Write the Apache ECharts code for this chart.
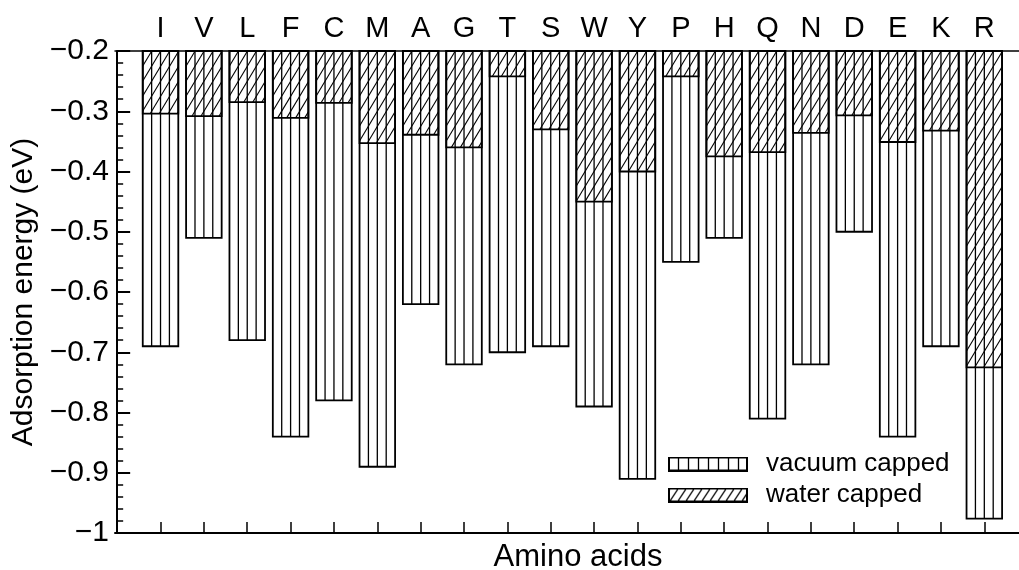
<!DOCTYPE html>
<html><head><meta charset="utf-8">
<script src="https://cdn.jsdelivr.net/npm/echarts@6/dist/echarts.min.js"></script>
<style>html,body{margin:0;padding:0;background:#fff}#c{width:1019px;height:570px}</style>
</head><body><div id="c"></div>
<script>
const categories = ['I','V','L','F','C','M','A','G','T','S','W','Y','P','H','Q','N','D','E','K','R'];
const vacuumCapped = [-0.69,-0.51,-0.68,-0.84,-0.78,-0.89,-0.62,-0.72,-0.70,-0.69,-0.79,-0.91,-0.55,-0.51,-0.81,-0.72,-0.50,-0.84,-0.69,-0.976];
const waterCapped = [-0.304,-0.308,-0.285,-0.311,-0.286,-0.353,-0.339,-0.36,-0.242,-0.33,-0.45,-0.40,-0.242,-0.375,-0.368,-0.336,-0.307,-0.351,-0.332,-0.725];
const seriesNames = ['vacuum capped','water capped'];
const yName = 'Adsorption energy (eV)';
const xName = 'Amino acids';
const yMin = -1, yMax = -0.2, yStep = 0.1;
const xPositions = categories.map((c,i)=>i+1);

const FONT = '"Liberation Sans", Arial, Helvetica, sans-serif';
const BASE = yMax;

function makeIcon(kind) {
  const c = document.createElement('canvas'); c.width = 80; c.height = 15;
  const g = c.getContext('2d');
  g.fillStyle = '#fff'; g.fillRect(0,0,80,15);
  g.strokeStyle = '#000'; g.lineWidth = 1.3;
  g.beginPath();
  if (kind === 'v') {
    for (let x = 10; x < 80; x += 10) { g.moveTo(x+0.5,0); g.lineTo(x+0.5,15); }
  } else {
    for (let x = -15; x < 95; x += 8) { g.moveTo(x,15); g.lineTo(x+10,0); }
  }
  g.stroke();
  g.lineWidth = 2; g.strokeRect(1,1,78,13);
  return 'image://' + c.toDataURL();
}

function barGeom(api) {
  const x = api.value(0), v = api.value(1);
  const top = api.coord([x, BASE]);
  const bot = api.coord([x, v]);
  const w = api.size([0.82, 0])[0];
  return {x0: top[0]-w/2, x1: top[0]+w/2, yT: top[1], yB: bot[1], w: w};
}

function renderVacuum(params, api) {
  const b = barGeom(api);
  const children = [{type:'rect', shape:{x:b.x0, y:b.yT, width:b.w, height:b.yB-b.yT},
    style:{fill:'#fff', stroke:'#000', lineWidth:1.8}}];
  for (let k = 1; k < 4; k++) {
    const xx = b.x0 + b.w*k/4;
    children.push({type:'line', shape:{x1:xx, y1:b.yT, x2:xx, y2:b.yB}, style:{stroke:'#000', lineWidth:1.3}});
  }
  return {type:'group', children};
}

function renderWater(params, api) {
  const b = barGeom(api);
  const H = b.yB - b.yT;
  const slope = 0.6, step = 9;
  const children = [];
  for (let xi = b.x0 - slope*H - step; xi < b.x1 + step; xi += step) {
    let t0 = 0, t1 = 1;
    const dx = slope*H;
    t0 = Math.max(t0, (b.x0 - xi)/dx);
    t1 = Math.min(t1, (b.x1 - xi)/dx);
    if (t1 > t0) {
      children.push({type:'line', shape:{x1: xi+dx*t0, y1: b.yB-H*t0, x2: xi+dx*t1, y2: b.yB-H*t1},
        style:{stroke:'#000', lineWidth:1.1}});
    }
  }
  children.push({type:'rect', shape:{x:b.x0, y:b.yT, width:b.w, height:H},
    style:{fill:'none', stroke:'#000', lineWidth:1.8}});
  return {type:'group', children};
}

const chart = echarts.init(document.getElementById('c'), null, {renderer:'canvas'});
chart.setOption({
  animation: false,
  backgroundColor: '#fff',
  textStyle: {fontFamily: FONT, color:'#000'},
  grid: {left: 115, right: 0, top: 51, bottom: 37, containLabel: false, outerBoundsMode: 'none'},
  legend: {
    orient: 'vertical', left: 663, top: 446, itemWidth: 80, itemHeight: 15, itemGap: 5,
    textStyle: {fontSize: 26, color: '#000', fontFamily: FONT, padding: [0,0,0,13]},
    data: [{name: seriesNames[0], icon: makeIcon('v')}, {name: seriesNames[1], icon: makeIcon('w')}]
  },
  xAxis: [{
    type: 'value', min: -0.05, max: 20.8, position: 'bottom',
    name: xName, nameLocation: 'middle', nameGap: 9,
    nameTextStyle: {fontSize: 31, color: '#000', fontFamily: FONT, verticalAlign: 'top', padding: [0,0,0,22]},
    axisLine: {show: true, onZero: false, lineStyle: {color: '#000', width: 2}},
    axisTick: {show: true, inside: true, length: 11, customValues: xPositions, lineStyle: {color: '#000', width: 1.5}},
    axisLabel: {show: false},
    splitLine: {show: false}
  }, {
    type: 'value', min: -0.05, max: 20.8, position: 'top',
    axisLine: {show: true, onZero: false, lineStyle: {color: '#000', width: 1.5}},
    axisTick: {show: false},
    axisLabel: {show: true, margin: 8, fontSize: 29, color: '#000', fontFamily: FONT,
      customValues: xPositions,
      formatter: v => categories[Math.round(v)-1] || ''},
    splitLine: {show: false}
  }],
  yAxis: {
    type: 'value', min: yMin, max: yMax, interval: yStep,
    name: yName, nameLocation: 'middle', nameGap: 73,
    nameTextStyle: {fontSize: 30, color: '#000', fontFamily: FONT},
    axisLine: {show: true, lineStyle: {color: '#000', width: 2}},
    axisTick: {show: true, inside: true, length: 13, lineStyle: {color: '#000', width: 2}},
    minorTick: {show: true, splitNumber: 5, length: 6, lineStyle: {color: '#000', width: 1.5}},
    axisLabel: {fontSize: 30, color: '#000', margin: 6, fontFamily: FONT,
      formatter: v => Math.abs(v + 1) < 1e-9 ? '\u22121' : '\u2212' + Math.abs(v).toFixed(1)},
    splitLine: {show: false}
  },
  series: [{
    name: seriesNames[0], type: 'custom', renderItem: renderVacuum,
    itemStyle: {color: '#fff', borderColor: '#000'},
    data: vacuumCapped.map((v,i) => [xPositions[i], v]), z: 2
  }, {
    name: seriesNames[1], type: 'custom', renderItem: renderWater,
    itemStyle: {color: '#fff', borderColor: '#000'},
    data: waterCapped.map((v,i) => [xPositions[i], v]), z: 3
  }]
});
</script></body></html>
